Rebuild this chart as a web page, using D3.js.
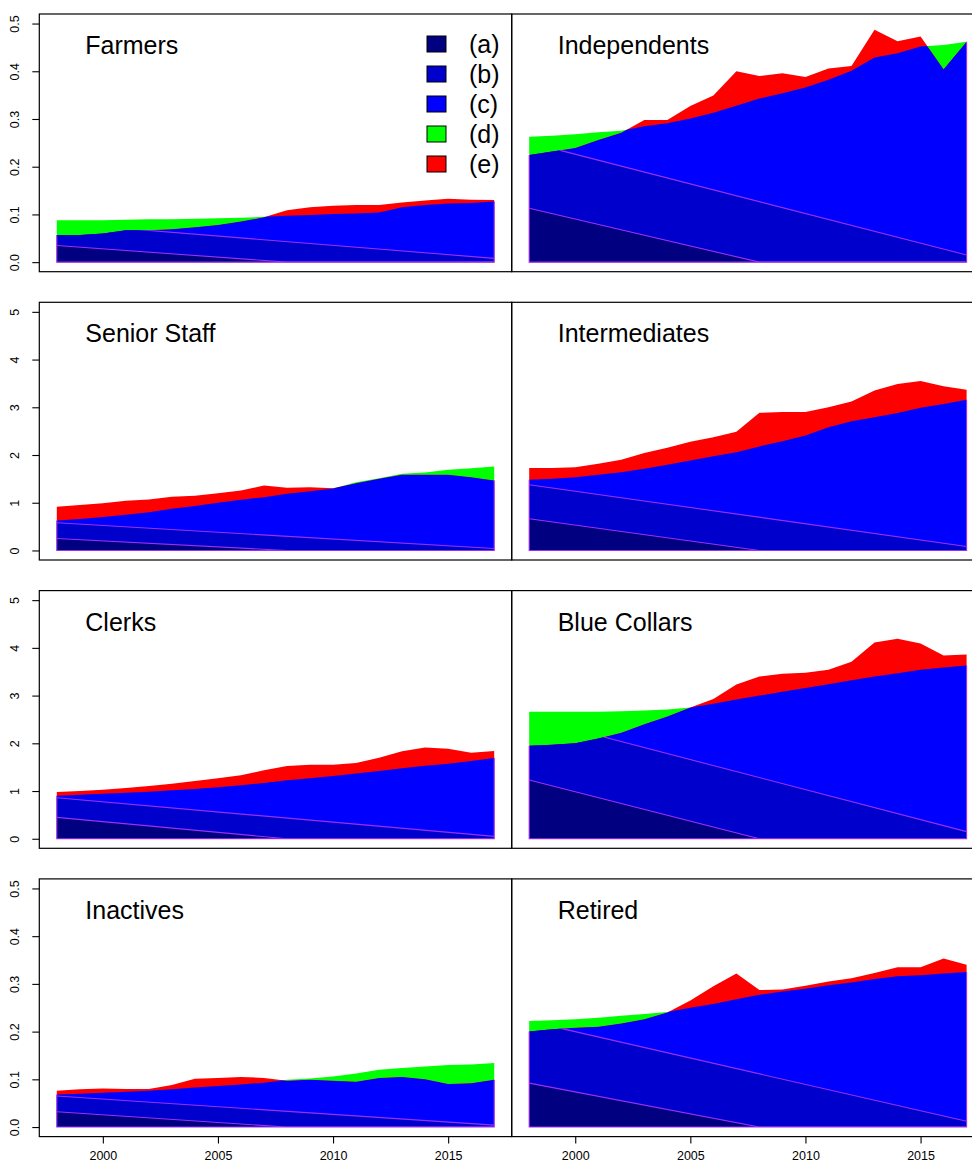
<!DOCTYPE html>
<html lang="en">
<head>
<meta charset="UTF-8">
<title>Decomposition by group</title>
<script src="https://d3js.org/d3.v7.min.js"></script>
<style>
  body { margin: 0; background: #ffffff; }
  svg text { font-family: "Liberation Sans", Arial, Helvetica, sans-serif; fill: #000000; }
</style>
</head>
<body>
<svg id="chart" width="972" height="1163"></svg>
<script>

// ---- data ----
const years = [1998, 1999, 2000, 2001, 2002, 2003, 2004, 2005, 2006, 2007,
               2008, 2009, 2010, 2011, 2012, 2013, 2014, 2015, 2016, 2017];

const groups = ['Farmers', 'Independents', 'Senior Staff', 'Intermediates',
                'Clerks', 'Blue Collars', 'Inactives', 'Retired'];

// smooth level (top of blue when observed is higher)
const farmersFit       = [0.088, 0.088, 0.088, 0.089, 0.090, 0.090, 0.091, 0.092, 0.093, 0.095, 0.097, 0.099, 0.101, 0.102, 0.104, 0.115, 0.120, 0.123, 0.124, 0.127];
const independentsFit  = [0.263, 0.265, 0.268, 0.272, 0.2755, 0.285, 0.291, 0.301, 0.313, 0.328, 0.343, 0.354, 0.366, 0.382, 0.401, 0.429, 0.438, 0.452, 0.455, 0.462];
const seniorFit        = [0.628, 0.66, 0.70, 0.747, 0.80, 0.873, 0.93, 1.0, 1.06, 1.117, 1.187, 1.243, 1.30, 1.43, 1.515, 1.606, 1.634, 1.69, 1.725, 1.76];
const intermediatesFit = [1.48, 1.50, 1.536, 1.585, 1.64, 1.71, 1.795, 1.885, 1.976, 2.06, 2.18, 2.29, 2.41, 2.58, 2.71, 2.79, 2.88, 2.99, 3.07, 3.16];
const clerksFit        = [0.902, 0.923, 0.944, 0.965, 0.986, 1.014, 1.042, 1.077, 1.119, 1.168, 1.224, 1.266, 1.315, 1.37, 1.42, 1.475, 1.53, 1.573, 1.63, 1.692];
const blueCollarsFit   = [2.66, 2.66, 2.66, 2.66, 2.67, 2.69, 2.71, 2.75, 2.83, 2.92, 3.0, 3.08, 3.16, 3.24, 3.32, 3.40, 3.47, 3.54, 3.59, 3.63];
const inactivesFit     = [0.068, 0.070, 0.072, 0.074, 0.076, 0.079, 0.083, 0.086, 0.089, 0.093, 0.099, 0.102, 0.106, 0.112, 0.120, 0.124, 0.127, 0.130, 0.131, 0.134];
const retiredFit       = [0.222, 0.224, 0.226, 0.229, 0.233, 0.237, 0.241, 0.25, 0.258, 0.268, 0.277, 0.284, 0.29, 0.297, 0.303, 0.31, 0.316, 0.318, 0.322, 0.325];

// observed level
const farmersObs       = [0.057, 0.057, 0.060, 0.067, 0.067, 0.069, 0.073, 0.078, 0.085, 0.094, 0.109, 0.115, 0.118, 0.120, 0.120, 0.125, 0.129, 0.133, 0.131, 0.130];
const independentsObs  = [0.2245, 0.232, 0.239, 0.256, 0.271, 0.298, 0.298, 0.327, 0.349, 0.400, 0.390, 0.396, 0.388, 0.406, 0.411, 0.487, 0.463, 0.473, 0.404, 0.462];
const seniorObs        = [0.915, 0.95, 0.99, 1.04, 1.07, 1.124, 1.145, 1.20, 1.257, 1.36, 1.313, 1.327, 1.306, 1.41, 1.50, 1.585, 1.585, 1.585, 1.536, 1.466];
const intermediatesObs = [1.73, 1.73, 1.746, 1.816, 1.90, 2.04, 2.15, 2.28, 2.374, 2.49, 2.884, 2.90, 2.90, 3.00, 3.12, 3.35, 3.49, 3.55, 3.44, 3.37];
const clerksObs        = [0.979, 1.0, 1.028, 1.063, 1.105, 1.154, 1.21, 1.266, 1.33, 1.434, 1.524, 1.55, 1.55, 1.587, 1.70, 1.832, 1.91, 1.888, 1.804, 1.84];
const blueCollarsObs   = [1.95, 1.97, 2.0, 2.1, 2.22, 2.4, 2.56, 2.75, 2.93, 3.23, 3.4, 3.46, 3.48, 3.54, 3.71, 4.11, 4.19, 4.09, 3.84, 3.86];
const inactivesObs     = [0.076, 0.079, 0.081, 0.080, 0.080, 0.088, 0.101, 0.103, 0.105, 0.103, 0.097, 0.099, 0.097, 0.095, 0.103, 0.105, 0.100, 0.090, 0.092, 0.099];
const retiredObs       = [0.200, 0.205, 0.208, 0.210, 0.217, 0.226, 0.240, 0.265, 0.295, 0.322, 0.287, 0.288, 0.296, 0.305, 0.312, 0.323, 0.335, 0.335, 0.353, 0.340];

const fits = [farmersFit, independentsFit, seniorFit, intermediatesFit, clerksFit, blueCollarsFit, inactivesFit, retiredFit];
const obs  = [farmersObs, independentsObs, seniorObs, intermediatesObs, clerksObs, blueCollarsObs, inactivesObs, retiredObs];

// straight components (a) and (b): values at the ends
const aStart = [0.035, 0.113, 0.25, 0.663, 0.448, 1.23, 0.032, 0.092];
const aZeroYear = 2008;
const bStart = [0.082, 0.251, 0.58, 1.376, 0.86, 2.54, 0.065, 0.222];
const bEnd   = [0.008, 0.015, 0.04, 0.084, 0.049, 0.15, 0.004, 0.012];

const rowMax = [0.5, 5, 5, 0.5];
const smallTicks = [0, 0.1, 0.2, 0.3, 0.4, 0.5];
const bigTicks = [0, 1, 2, 3, 4, 5];
const xTicks = [2000, 2005, 2010, 2015];

const legendKeys = ['(a)', '(b)', '(c)', '(d)', '(e)'];
const legendColours = ['#000080', '#0000cd', '#0000ff', '#00ff00', '#ff0000'];
const edgeColour = '#9a30f0';

// ---- layout ----
const svg = d3.select('#chart');
const defs = svg.append('defs');
const boxLeft = 39.3, boxW = 472.4, boxH = 257.7, rowTop0 = 14, rowStep = 288.3;
const first = years[0], last = years[years.length - 1];

groups.forEach(function(name, i) {
  const row = Math.floor(i / 2), col = i % 2;
  const px = boxLeft + col * boxW, py = rowTop0 + row * rowStep;
  const max = rowMax[row];

  const x = d3.scaleLinear().domain([first - 0.76, last + 0.76]).range([px, px + boxW]);
  const y = d3.scaleLinear().domain([-0.04 * max, 1.04 * max]).range([py + boxH, py]);

  const fit = fits[i], ob = obs[i];

  defs.append('clipPath').attr('id', 'panel' + i)
    .append('rect').attr('x', px).attr('y', py).attr('width', boxW).attr('height', boxH);

  const under = function(vals) {
    return d3.area().x((d, k) => x(years[k])).y0(y(0)).y1(d => y(d))(vals);
  };
  defs.append('clipPath').attr('id', 'underObs' + i).append('path').attr('d', under(ob));
  defs.append('clipPath').attr('id', 'underFit' + i).append('path').attr('d', under(fit));

  const g = svg.append('g').attr('clip-path', 'url(#panel' + i + ')');

  g.append('path').attr('d', under(fit)).attr('fill', legendColours[3]);
  g.append('path').attr('d', under(ob)).attr('fill', legendColours[4]);

  const inner = g.append('g').attr('clip-path', 'url(#underObs' + i + ')')
    .append('g').attr('clip-path', 'url(#underFit' + i + ')');

  inner.append('path').attr('d', under(ob)).attr('fill', legendColours[2]);

  const pts = d3.area().x(d => x(d[0])).y0(y(0)).y1(d => y(d[1]));
  const ln = d3.line().x(d => x(d[0])).y(d => y(d[1]));
  const bLine = [[first, bStart[i]], [last, bEnd[i]]];
  const aLine = [[first, aStart[i]], [aZeroYear, 0], [last, 0]];

  inner.append('path').attr('d', pts(bLine)).attr('fill', legendColours[1]);
  inner.append('path').attr('d', pts(aLine)).attr('fill', legendColours[0]);
  inner.append('path').attr('d', ln(bLine)).attr('fill', 'none').attr('stroke', edgeColour).attr('stroke-width', 1.1);
  inner.append('path').attr('d', ln(aLine)).attr('fill', 'none').attr('stroke', edgeColour).attr('stroke-width', 1.1);

  const edge = [[first, Math.min(fit[0], ob[0])], [first, 0], [last, 0],
                [last, Math.min(fit[fit.length - 1], ob[ob.length - 1])]];
  g.append('path').attr('d', ln(edge)).attr('fill', 'none').attr('stroke', edgeColour).attr('stroke-width', 1.1);

  // box
  svg.append('rect').attr('x', px).attr('y', py).attr('width', boxW).attr('height', boxH)
    .attr('fill', 'none').attr('stroke', '#000000').attr('stroke-width', 1.2);

  svg.append('text').attr('x', px + 46).attr('y', py + 40)
    .attr('font-size', 25).text(name);

  if (col === 0) {
    const ya = svg.append('g').attr('transform', 'translate(' + px + ',0)')
      .call(d3.axisLeft(y).tickValues(max < 1 ? smallTicks : bigTicks)
        .tickFormat(max < 1 ? d3.format('.1f') : d3.format('d')).tickSize(7));
    ya.select('.domain').remove();
    ya.selectAll('line').attr('stroke', '#000000').attr('stroke-width', 1.1);
    ya.selectAll('text')
      .attr('x', null).attr('dy', null)
      .attr('transform', 'translate(-20.5,0) rotate(-90)')
      .attr('text-anchor', 'middle').attr('font-size', 12.5)
      .attr('font-family', '"Liberation Sans", Arial, sans-serif');
  }

  if (row === 3) {
    const xa = svg.append('g').attr('transform', 'translate(0,' + (py + boxH) + ')')
      .call(d3.axisBottom(x).tickValues(xTicks).tickFormat(d3.format('d')).tickSize(7));
    xa.select('.domain').remove();
    xa.selectAll('line').attr('stroke', '#000000').attr('stroke-width', 1.1);
    xa.selectAll('text').attr('y', 23.5).attr('dy', null)
      .attr('font-size', 12.5).attr('font-family', '"Liberation Sans", Arial, sans-serif');
  }

  if (i === 0) {
    const lg = svg.append('g');
    legendKeys.forEach(function(key, k) {
      lg.append('rect').attr('x', 427).attr('y', 36 + 30 * k).attr('width', 19).attr('height', 16)
        .attr('fill', legendColours[k]).attr('stroke', '#000000').attr('stroke-width', 1);
      lg.append('text').attr('x', 469).attr('y', 44 + 30 * k).attr('dy', '0.35em')
        .attr('font-size', 25).text(key);
    });
  }
});

</script>
</body>
</html>
